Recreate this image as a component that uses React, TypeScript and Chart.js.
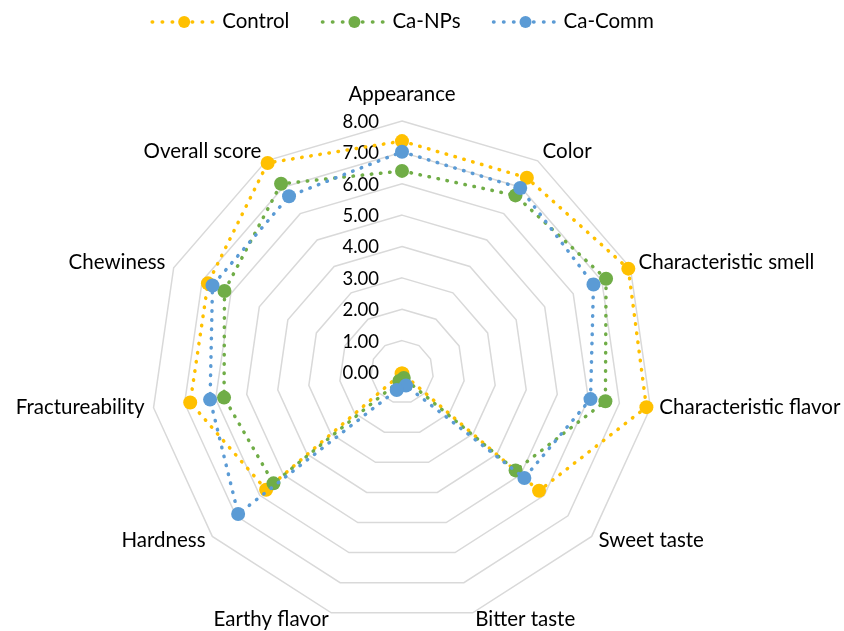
import React, { useEffect, useRef } from "react";
import { Chart, registerables } from "chart.js";

Chart.register(...registerables);

const categories = [
  "Appearance",
  "Color",
  "Characteristic smell",
  "Characteristic flavor",
  "Sweet taste",
  "Bitter taste",
  "Earthy flavor",
  "Hardness",
  "Fractureability",
  "Chewiness",
  "Overall score",
];
const controlValues = [7.36, 7.36, 7.93, 7.87, 5.78, 0.05, 0.05, 5.73, 6.82, 6.8, 7.92];
const caNPsValues = [6.41, 6.69, 7.15, 6.55, 4.79, 0.2, 0.3, 5.42, 5.73, 6.22, 7.13];
const caCommValues = [7.02, 6.97, 6.71, 6.07, 5.16, 0.45, 0.6, 6.91, 6.18, 6.64, 6.66];
const seriesNames = ["Control", "Ca-NPs", "Ca-Comm"];
const seriesColors = ["#FFC000", "#70AD47", "#5B9BD5"];
const tickValues = [0, 1, 2, 3, 4, 5, 6, 7, 8];

const LABEL_FONT = "20.5px Lato";
const TICK_FONT = "18.5px Lato";

const decorPlugin = {
  id: "excelDecor",
  beforeDatasetsDraw(chart: any) {
    const s = chart.scales.r;
    const ctx = chart.ctx;
    ctx.save();
    ctx.font = TICK_FONT;
    ctx.fillStyle = "#000000";
    ctx.textAlign = "right";
    ctx.textBaseline = "middle";
    tickValues.forEach((v) => {
      const y = s.yCenter - s.getDistanceFromCenterForValue(v);
      ctx.fillText(v.toFixed(2), s.xCenter - 23, y + 1);
    });
    ctx.font = LABEL_FONT;
    categories.forEach((c, i) => {
      const a = s.getIndexAngle(i);
      const p = s.getPointPosition(i, s.drawingArea);
      const sn = Math.sin(a);
      const cs = Math.cos(a);
      if (Math.abs(sn) < 0.05 && cs > 0) {
        ctx.textAlign = "center";
        ctx.textBaseline = "alphabetic";
        ctx.fillText(c, p.x, p.y - 20);
      } else {
        ctx.textAlign = Math.abs(sn) < 0.05 ? "center" : sn > 0 ? "left" : "right";
        ctx.textBaseline = "middle";
        ctx.fillText(c, p.x + 9 * sn, p.y - 9 * cs - 2);
      }
    });
    ctx.restore();
  },
  afterDraw(chart: any) {
    const s = chart.scales.r;
    const ctx = chart.ctx;
    ctx.save();
    ctx.font = LABEL_FONT;
    const lineLen = 63;
    const gapText = 9;
    const gapItem = 31;
    const widths = seriesNames.map((n) => ctx.measureText(n).width);
    const total =
      widths.reduce((a: number, b: number) => a + b, 0) +
      seriesNames.length * (lineLen + gapText) +
      (seriesNames.length - 1) * gapItem;
    let x = s.xCenter - total / 2;
    const y = 22;
    seriesNames.forEach((n, i) => {
      const col = seriesColors[i];
      ctx.strokeStyle = col;
      ctx.lineWidth = 3.5;
      ctx.lineCap = "round";
      ctx.setLineDash([0.5, 9.5]);
      ctx.beginPath();
      ctx.moveTo(x + 2, y);
      ctx.lineTo(x + lineLen, y);
      ctx.stroke();
      ctx.setLineDash([]);
      ctx.fillStyle = col;
      ctx.beginPath();
      ctx.arc(x + 34, y, 6, 0, Math.PI * 2);
      ctx.fill();
      ctx.fillStyle = "#000000";
      ctx.textAlign = "left";
      ctx.textBaseline = "middle";
      ctx.fillText(n, x + lineLen + gapText, y - 0.5);
      x += lineLen + gapText + widths[i] + gapItem;
    });
    ctx.restore();
  },
};

export default function App() {
  const canvasRef = useRef<HTMLCanvasElement | null>(null);

  useEffect(() => {
    const canvas = canvasRef.current;
    if (!canvas) return;
    const seriesValues = [controlValues, caNPsValues, caCommValues];
    const chart = new Chart(canvas, {
      type: "radar",
      data: {
        labels: categories,
        datasets: seriesNames.map((name, i) => ({
          label: name,
          data: seriesValues[i],
          borderColor: seriesColors[i],
          backgroundColor: seriesColors[i],
          pointBackgroundColor: seriesColors[i],
          pointBorderColor: seriesColors[i],
          pointBorderWidth: 0,
          pointRadius: 7,
          borderWidth: 3.5,
          borderDash: [0.5, 8.7],
          borderCapStyle: "round",
          fill: false,
          tension: 0,
          order: seriesNames.length - i,
        })),
      },
      options: {
        responsive: false,
        animation: false,
        layout: { padding: { top: 121, bottom: 8, left: 151, right: 191 } },
        plugins: {
          legend: { display: false },
          tooltip: { enabled: false },
        },
        scales: {
          r: {
            min: 0,
            max: 8,
            ticks: { display: false, stepSize: 1 },
            grid: { color: "#D9D9D9", lineWidth: 1.5, circular: false },
            angleLines: { display: false },
            pointLabels: { display: false },
          },
        },
      },
      plugins: [decorPlugin],
    } as any);
    return () => chart.destroy();
  }, []);

  return (
    <div style={{ position: "absolute", left: 0, top: 0, width: 844, height: 631, overflow: "hidden" }}>
      <canvas ref={canvasRef} width={844} height={631} style={{ display: "block" }} />
    </div>
  );
}
